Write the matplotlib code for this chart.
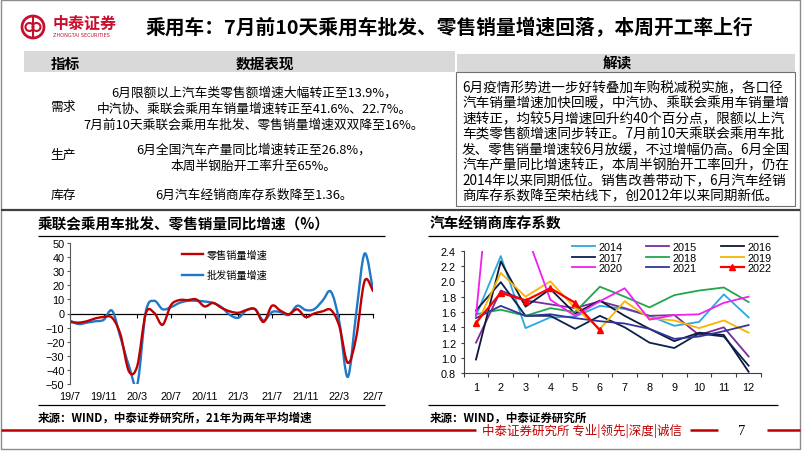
import numpy as np
import matplotlib.pyplot as plt
from matplotlib.patches import Rectangle, Ellipse, PathPatch
from matplotlib.path import Path
from matplotlib.lines import Line2D
from matplotlib.ticker import FormatStrFormatter, MultipleLocator

plt.rcParams['font.family'] = ['Noto Sans CJK SC', 'DejaVu Sans']

# ---------------- data ----------------
# left chart: monthly 19/7 .. 22/7
month_tick_pos = list(range(0, 37, 4))
month_tick_labels = ['19/7', '19/11', '20/3', '20/7', '20/11', '21/3', '21/7', '21/11', '22/3', '22/7']
retail = [-6, -6.5, -5.5, -3.5, -2.5, -3, -15, -41, -37, 0, 0.5, -8,
          6, 9.5, 9.5, 10, 5, 7.5, 4, 1.5, 0.5, 2.5, 3, -6,
          5.5, 2, -0.5, 3, -2.5, 0, 1.5, 2.5, -9, -35, -17, 23, 16]
wholesale = [-5, -7.5, -6.5, -5.5, -4.5, 2, -17, -37, -50, 1, 9, 3,
             4.5, 7.5, 9, 9, 8.5, 7.5, 4.5, -1, -3, 2.5, 3, -5,
             1, 1, -1, 5.5, 2.5, 3, 9, 15.5, -6, -45, 0, 42.5, 16.5]

# right chart: dealer inventory coefficient, month 1..12
inv_months = list(range(1, 13))
inv_years = ['2014', '2015', '2016', '2017', '2018', '2019', '2020', '2021', '2022']
inv_2014 = [1.55, 2.33, 1.39, 1.53, 1.54, 1.68, 1.64, 1.55, 1.42, 1.47, 1.83, 1.53]
inv_2015 = [1.20, 1.88, 1.75, 1.70, 1.65, 1.74, 1.65, 1.55, 1.56, 1.30, 1.40, 1.02]
inv_2016 = [0.98, 2.26, 1.67, 1.90, 1.58, 1.75, 1.55, 1.38, 1.22, 1.33, 1.30, 0.82]
inv_2017 = [1.62, 1.99, 1.55, 1.55, 1.38, 1.55, 1.40, 1.20, 1.13, 1.32, 1.28, 0.90]
inv_2018 = [1.57, 1.63, 1.55, 1.65, 1.60, 1.93, 1.80, 1.66, 1.82, 1.88, 1.92, 1.73]
inv_2019 = [1.42, 2.11, 1.80, 2.00, 1.65, 1.38, 1.74, 1.52, 1.49, 1.39, 1.49, 1.33]
inv_2020 = [1.55, 4.91, 2.65, 1.76, 1.55, 1.74, 1.91, 1.50, 1.56, 1.57, 1.72, 1.80]
inv_2021 = [1.52, 1.68, 1.55, 1.57, 1.52, 1.48, 1.45, 1.38, 1.25, 1.28, 1.35, 1.43]
inv_2022 = [1.46, 1.85, 1.75, 1.91, 1.72, 1.36]
inv_colors = ['#2AA8E0', '#7B2C9E', '#101838', '#0C2150', '#22A64C',
              '#F7B500', '#F020F0', '#34359C', '#FF0000']

# ---------------- helpers ----------------
W, H = 802, 452


def fx(x):
    return x / W


def fy(y):
    return 1 - y / H


def hline(fig, x0, x1, y, color, lw):
    fig.add_artist(Line2D([fx(x0), fx(x1)], [fy(y), fy(y)], transform=fig.transFigure,
                          color=color, lw=lw, solid_capstyle='butt'))


def smooth_path(xs, ys):
    # Catmull-Rom style cubic Bezier through the data points (like Excel smoothed line)
    pts = np.column_stack([xs, ys]).astype(float)
    n = len(pts)
    verts = [pts[0]]
    codes = [Path.MOVETO]
    for i in range(n - 1):
        p0 = pts[max(i - 1, 0)]
        p1 = pts[i]
        p2 = pts[i + 1]
        p3 = pts[min(i + 2, n - 1)]
        verts += [p1 + (p2 - p0) / 6, p2 - (p3 - p1) / 6, p2]
        codes += [Path.CURVE4] * 3
    return Path(verts, codes)


fig = plt.figure(figsize=(W / 100, H / 100), dpi=100)

# slide frame
fig.add_artist(Rectangle((fx(1), fy(450)), fx(799), 449 / H, transform=fig.transFigure,
                         fill=False, edgecolor='#8C8C8C', lw=1))

# logo
red = '#C8102E'
fig.add_artist(Ellipse((fx(33), fy(28)), 22 / W, 22 / H, transform=fig.transFigure,
                       fill=False, edgecolor=red, lw=2))
fig.add_artist(Ellipse((fx(29.5), fy(28)), 8 / W, 8 / H, transform=fig.transFigure,
                       fill=False, edgecolor=red, lw=1.5))
fig.add_artist(Ellipse((fx(36.5), fy(28)), 8 / W, 8 / H, transform=fig.transFigure,
                       fill=False, edgecolor=red, lw=1.5))
fig.add_artist(Line2D([fx(33), fx(33)], [fy(19), fy(37)], transform=fig.transFigure,
                      color=red, lw=1.5))
fig.text(fx(53), fy(24), '中泰证券', color=red, fontsize=11.5, fontweight='bold',
         ha='left', va='center')
fig.text(fx(53), fy(35.5), 'ZHONGTAI SECURITIES', color=red, fontsize=3.6,
         ha='left', va='center', family=['DejaVu Sans'])

# title
fig.text(fx(145), fy(28), '乘用车：7月前10天乘用车批发、零售销量增速回落，本周开工率上行',
         fontsize=14.2, fontweight='bold', ha='left', va='center')

# table header bands
fig.add_artist(Rectangle((fx(24), fy(73)), 431 / W, 21 / H, transform=fig.transFigure,
                         facecolor='#D9D9D9', edgecolor='none'))
fig.add_artist(Rectangle((fx(457), fy(73)), 338 / W, 18 / H, transform=fig.transFigure,
                         facecolor='#D9D9D9', edgecolor='none'))
fig.text(fx(65), fy(64), '指标', fontsize=10.5, fontweight='bold', ha='center', va='center')
fig.text(fx(265), fy(64), '数据表现', fontsize=10.5, fontweight='bold', ha='center', va='center')
fig.text(fx(617), fy(64), '解读', fontsize=10.5, fontweight='bold', ha='center', va='center')

# left table body
fig.text(fx(63), fy(107), '需求', fontsize=9.2, ha='center', va='center')
fig.text(fx(63), fy(155), '生产', fontsize=9.2, ha='center', va='center')
fig.text(fx(63), fy(195), '库存', fontsize=9.2, ha='center', va='center')
left_lines = [
    (93, '6月限额以上汽车类零售额增速大幅转正至13.9%，'),
    (109, '中汽协、乘联会乘用车销量增速转正至41.6%、22.7%。'),
    (125, '7月前10天乘联会乘用车批发、零售销量增速双双降至16%。'),
    (150, '6月全国汽车产量同比增速转正至26.8%，'),
    (166, '本周半钢胎开工率升至65%。'),
    (195, '6月汽车经销商库存系数降至1.36。'),
]
for yy, s in left_lines:
    fig.text(fx(254), fy(yy), s, fontsize=9.2, ha='center', va='center')

# right explanation box
fig.add_artist(Rectangle((fx(456), fy(207)), 339 / W, 134 / H, transform=fig.transFigure,
                         fill=False, edgecolor='#707070', lw=0.8))
right_lines = [
    '6月疫情形势进一步好转叠加车购税减税实施，各口径',
    '汽车销量增速加快回暖，中汽协、乘联会乘用车销量增',
    '速转正，均较5月增速回升约40个百分点，限额以上汽',
    '车类零售额增速同步转正。7月前10天乘联会乘用车批',
    '发、零售销量增速较6月放缓，不过增幅仍高。6月全国',
    '汽车产量同比增速转正，本周半钢胎开工率回升，仍在',
    '2014年以来同期低位。销售改善带动下，6月汽车经销',
    '商库存系数降至荣枯线下，创2012年以来同期新低。',
]
for k, s in enumerate(right_lines):
    fig.text(fx(462), fy(88 + 15.5 * k), s, fontsize=9.8, ha='left', va='center')

# separator line
hline(fig, 1, 800, 211, '#404040', 1.6)

# chart titles / rules / sources
fig.text(fx(38), fy(224), '乘联会乘用车批发、零售销量同比增速（%）', fontsize=10.5,
         fontweight='bold', ha='left', va='center')
fig.text(fx(430), fy(224), '汽车经销商库存系数', fontsize=10.5,
         fontweight='bold', ha='left', va='center')
hline(fig, 38, 385, 237, 'black', 0.9)
hline(fig, 428, 778, 237, 'black', 0.9)
hline(fig, 38, 385, 406, 'black', 0.9)
hline(fig, 428, 778, 406, 'black', 0.9)
fig.text(fx(38), fy(418), '来源：WIND，中泰证券研究所，21年为两年平均增速', fontsize=8.3,
         fontweight='bold', ha='left', va='center')
fig.text(fx(430), fy(418), '来源：WIND，中泰证券研究所', fontsize=8.3,
         fontweight='bold', ha='left', va='center')

# footer
fred = '#C00000'
hline(fig, 1, 476, 431, fred, 1.8)
fig.text(fx(482), fy(431), '中泰证券研究所 专业|领先|深度|诚信', color=fred, fontsize=9,
         ha='left', va='center')
hline(fig, 690, 718, 431, fred, 1.8)
fig.text(fx(742), fy(432), '7', fontsize=10.5, ha='center', va='center',
         family=['Liberation Serif'])
hline(fig, 767, 800, 431, fred, 1.8)

# ---------------- left chart ----------------
tick_font = ['Liberation Sans', 'DejaVu Sans']
ax1 = fig.add_axes([fx(70), fy(385), 303 / W, 141 / H])
ax1.set_xlim(0, 36)
ax1.set_ylim(-50, 50)
x = np.arange(len(retail))
c_red = '#C00000'
c_blue = '#1F78C8'
ax1.add_patch(PathPatch(smooth_path(x, wholesale), fill=False, edgecolor=c_blue, lw=1.7,
                        joinstyle='round', capstyle='round'))
ax1.add_patch(PathPatch(smooth_path(x, retail), fill=False, edgecolor=c_red, lw=1.7,
                        joinstyle='round', capstyle='round'))
for sp in ['top', 'right', 'bottom']:
    ax1.spines[sp].set_visible(False)
ax1.spines['left'].set_color('#595959')
ax1.spines['left'].set_linewidth(0.8)
ax1.set_yticks(range(-50, 51, 10))
ax1.tick_params(axis='y', direction='out', length=2.5, width=0.8, color='#595959',
                pad=1.5, labelsize=7.8)
ax1.set_xticks(month_tick_pos)
ax1.set_xticklabels(month_tick_labels)
ax1.tick_params(axis='x', length=0, pad=5, labelsize=7.8)
for lab in ax1.get_xticklabels() + ax1.get_yticklabels():
    lab.set_family(tick_font)

zero = ax1.secondary_xaxis(0.5)
zero.set_alignment('bottom')
zero.set_xticks(month_tick_pos)
zero.set_xticklabels([])
zero.tick_params(axis='x', direction='out', length=3, width=0.8, color='black')
zero.spines['bottom'].set_color('black')
zero.spines['bottom'].set_linewidth(0.9)

h_ret = Line2D([], [], color=c_red, lw=1.7)
h_whs = Line2D([], [], color=c_blue, lw=1.7)
ax1.legend([h_ret, h_whs], ['零售销量增速', '批发销量增速'], loc='upper left',
           bbox_to_anchor=(0.37, 0.955), frameon=False, fontsize=7.3,
           handlelength=2.1, handletextpad=0.35, labelspacing=1.0,
           borderpad=0, borderaxespad=0)

# ---------------- right chart ----------------
ax2 = fig.add_axes([fx(463.6), fy(374.3), 297.4 / W, 122.6 / H])
series = [inv_2014, inv_2015, inv_2016, inv_2017, inv_2018, inv_2019, inv_2020, inv_2021, inv_2022]
handles = []
for yr, vals, col in zip(inv_years, series, inv_colors):
    if yr == '2022':
        h, = ax2.plot(inv_months[:len(vals)], vals, color=col, lw=1.6, marker='^',
                      markersize=5, zorder=5, label=yr)
    else:
        h, = ax2.plot(inv_months[:len(vals)], vals, color=col, lw=1.3, label=yr)
    handles.append(h)
ax2.set_xlim(0.5, 12.5)
ax2.set_ylim(0.8, 2.4)
for sp in ['top', 'right']:
    ax2.spines[sp].set_visible(False)
for sp in ['left', 'bottom']:
    ax2.spines[sp].set_color('#404040')
    ax2.spines[sp].set_linewidth(0.8)
ax2.set_yticks(np.arange(0.8, 2.41, 0.2))
ax2.yaxis.set_major_formatter(FormatStrFormatter('%.1f'))
ax2.tick_params(axis='y', direction='out', length=2.5, width=0.8, color='#404040',
                pad=3, labelsize=7.8)
ax2.set_xticks(inv_months)
ax2.xaxis.set_minor_locator(MultipleLocator(1, offset=0.5))
ax2.tick_params(axis='x', which='major', length=0, pad=6, labelsize=7.8)
ax2.tick_params(axis='x', which='minor', direction='out', length=3, width=0.8, color='#404040')
for lab in ax2.get_xticklabels() + ax2.get_yticklabels():
    lab.set_family(tick_font)

order = [0, 3, 6, 1, 4, 7, 2, 5, 8]
leg = ax2.legend([handles[i] for i in order], [inv_years[i] for i in order], ncol=3,
                 loc='upper left', bbox_to_anchor=(0.364, 1.07), frameon=False,
                 fontsize=7.8, handlelength=2.1, handletextpad=0.35, labelspacing=0.05,
                 columnspacing=2.2, borderpad=0, borderaxespad=0)
for t in leg.get_texts():
    t.set_family(tick_font)

fig.savefig('out.png', dpi=100)
